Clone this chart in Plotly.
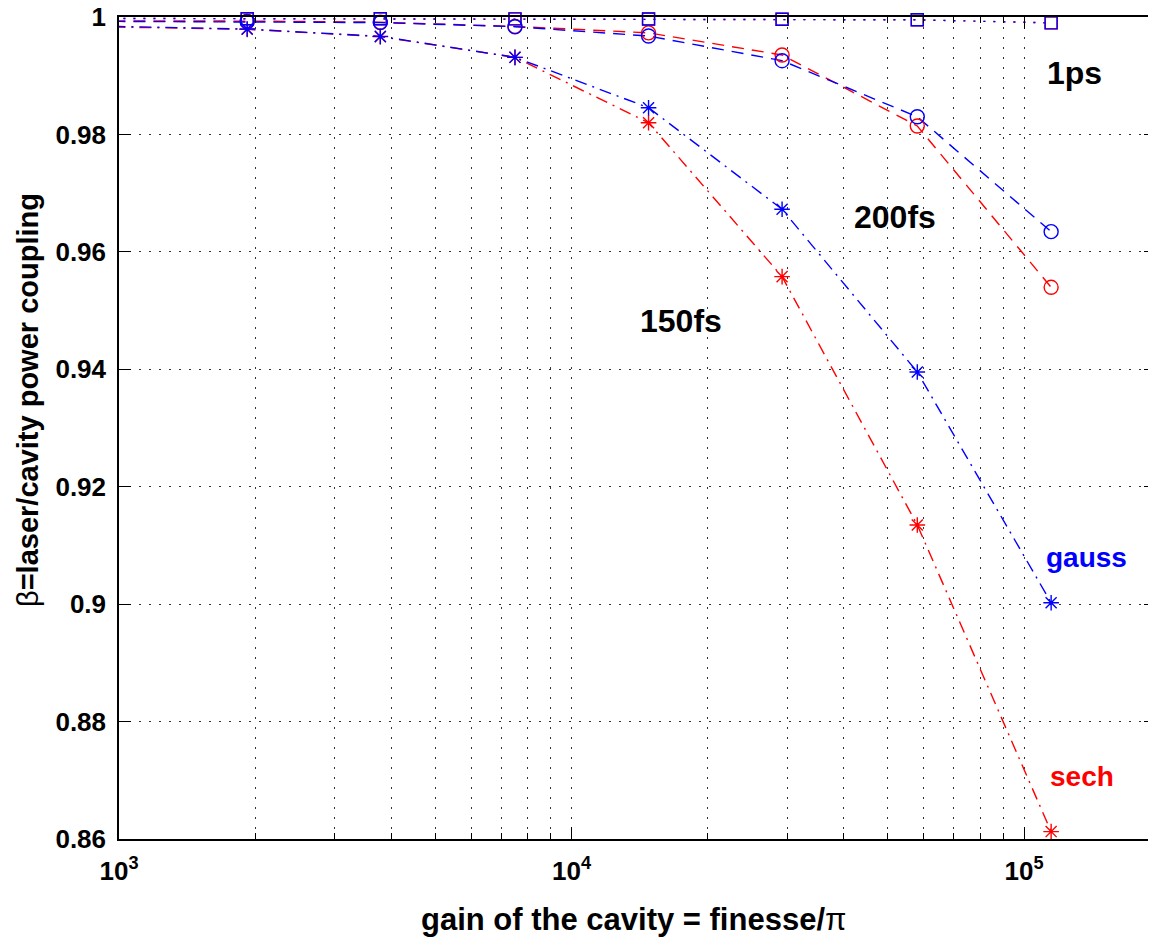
import plotly.graph_objects as go

# ---- data ----
gain = [972, 1920, 3780, 7500, 14800, 29200, 58100, 114800]

sech_1ps = [0.99975, 0.99970, 0.99970, 0.99968, 0.99965, 0.99962, 0.99952, 0.99900]
gauss_1ps = [0.99975, 0.99970, 0.99970, 0.99968, 0.99965, 0.99962, 0.99952, 0.99900]

sech_200fs = [0.99935, 0.99930, 0.99912, 0.99840, 0.99730, 0.99353, 0.98144, 0.95396]
gauss_200fs = [0.99925, 0.99920, 0.99905, 0.99835, 0.99676, 0.99256, 0.98300, 0.96344]

sech_150fs = [0.99830, 0.99790, 0.99665, 0.99313, 0.98200, 0.95578, 0.91349, 0.86126]
gauss_150fs = [0.99840, 0.99795, 0.99670, 0.99313, 0.98455, 0.96725, 0.93954, 0.90025]

x_major_ticks = [1e3, 1e4, 1e5]
x_major_labels = ["10<sup>3</sup>", "10<sup>4</sup>", "10<sup>5</sup>"]
x_minor_ticks = [m * d for d in (1e3, 1e4) for m in range(2, 10)] + [2e5]
y_ticks = [0.86, 0.88, 0.90, 0.92, 0.94, 0.96, 0.98, 1.0]
y_labels = ["0.86", "0.88", "0.9", "0.92", "0.94", "0.96", "0.98", "1"]

FONT = "Liberation Sans, Arial, Helvetica, sans-serif"
RED = "#ff0000"
BLUE = "#0000ff"

series = [
    (sech_1ps, RED, "2px,8px", "square-open", 12),
    (sech_200fs, RED, "12px,8px", "circle-open", 14),
    (sech_150fs, RED, "12px,6px,2px,6px", "asterisk-open", 13),
    (gauss_1ps, BLUE, "2px,8px", "square-open", 12),
    (gauss_200fs, BLUE, "12px,8px", "circle-open", 14),
    (gauss_150fs, BLUE, "12px,6px,2px,6px", "asterisk-open", 13),
]

fig = go.Figure()
for vals, col, dash, sym, size in series:
    fig.add_trace(go.Scatter(
        x=gain, y=vals, mode="lines",
        line=dict(color=col, width=1.4, dash=dash),
        hoverinfo="skip", showlegend=False,
    ))
for vals, col, dash, sym, size in series:
    fig.add_trace(go.Scatter(
        x=gain[1:], y=vals[1:], mode="markers", cliponaxis=False,
        marker=dict(symbol=sym, size=size, color=col,
                    line=dict(color=col, width=1.4)),
        showlegend=False,
    ))

GRID = dict(gridcolor="#333333", griddash="2px,8px", gridwidth=1)

fig.update_layout(
    width=1148, height=934,
    margin=dict(l=111, r=0, t=9, b=103, autoexpand=False),
    paper_bgcolor="white", plot_bgcolor="white",
    showlegend=False,
    font=dict(family=FONT, color="black", weight="bold"),
    xaxis=dict(
        type="log", range=[3, 5.2917], automargin=False,
        tickvals=x_major_ticks, ticktext=x_major_labels,
        ticks="inside", ticklen=12, tickwidth=1, tickcolor="black",
        showline=True, linecolor="black", linewidth=1.5, mirror="allticks",
        showgrid=True, zeroline=False, **GRID,
        tickfont=dict(family=FONT, size=26, color="black", weight="bold"),
        ticklabelstandoff=8, ticklabeloverflow="allow",
        minor=dict(tickvals=x_minor_ticks, ticks="inside", ticklen=6,
                   tickcolor="black", showgrid=True, **GRID),
    ),
    yaxis=dict(
        range=[0.86, 1.0], automargin=False,
        tickvals=y_ticks, ticktext=y_labels,
        ticks="inside", ticklen=12, tickwidth=1, tickcolor="black",
        showline=True, linecolor="black", linewidth=1.5, mirror="allticks",
        showgrid=True, zeroline=False, **GRID,
        tickfont=dict(family=FONT, size=26, color="black", weight="bold"),
        ticklabelstandoff=6, ticklabeloverflow="allow",
    ),
)

annotations = [
    dict(text="1ps", x=5.1105, y=0.99046, size=32, color="black"),
    dict(text="200fs", x=4.7149, y=0.96594, size=32, color="black"),
    dict(text="150fs", x=4.2420, y=0.94823, size=32, color="black"),
    dict(text="gauss", x=5.1370, y=0.90803, size=28, color=BLUE),
    dict(text="sech", x=5.1282, y=0.87057, size=28, color=RED),
]
for a in annotations:
    fig.add_annotation(
        text=a["text"], x=a["x"], y=a["y"], xref="x", yref="y",
        showarrow=False, xanchor="center", yanchor="middle",
        font=dict(family=FONT, size=a["size"], color=a["color"], weight="bold"),
    )

# axis titles
fig.add_annotation(
    text="gain of the cavity = finesse/<span style='font-weight:normal'>π</span>",
    xref="paper", yref="paper", x=0.4957, y=-0.0985,
    showarrow=False, xanchor="center", yanchor="middle",
    font=dict(family=FONT, size=31, color="black", weight="bold"),
)
fig.add_annotation(
    text="<span style='font-weight:normal'>β</span>=laser/cavity power coupling",
    xref="paper", yref="paper", x=-0.0878, y=0.534, textangle=-90,
    showarrow=False, xanchor="center", yanchor="middle",
    font=dict(family=FONT, size=29, color="black", weight="bold"),
)

fig.write_html("out.html")
